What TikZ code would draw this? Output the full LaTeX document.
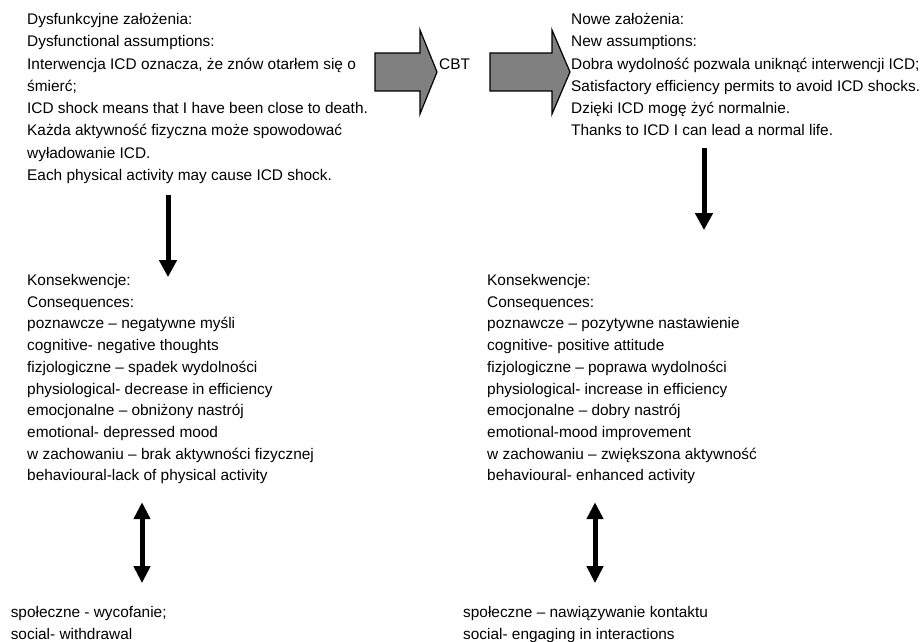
\documentclass[tikz,border=0pt]{standalone}
\usepackage{fontspec}
\setmainfont{Liberation Sans}
\usetikzlibrary{positioning,arrows.meta}
\tikzset{
  txtblock/.style={align=left, inner sep=0pt, anchor=base west,
    font=\fontsize{15.4bp}{21.7bp}\selectfont},
  topblock/.style={txtblock, font=\fontsize{15.4bp}{22.3bp}\selectfont},
  downarrow/.style={line width=5bp, -{Triangle[width=17bp,length=17bp]}},
  bothways/.style={line width=5bp,
    {Triangle[width=16bp,length=17bp]}-{Triangle[width=16bp,length=17bp]}},
  fatarrow/.style={draw=black, line width=1.2bp, fill=black!50, line join=miter},
}

\begin{document}
\begin{tikzpicture}[x=1bp, y=-1bp]
  \useasboundingbox (0,0) rectangle (923,642);
  % assumptions (base = last line)
  \node[topblock] (dysf) at (27,180.6) {Dysfunkcyjne założenia:\\Dysfunctional assumptions:\\Interwencja ICD oznacza, że znów otarłem się o\\śmierć;\\ICD shock means that I have been close to death.\\Każda aktywność fizyczna może spowodować\\wyładowanie ICD.\\Each physical activity may cause ICD shock.};
  \node[topblock] (nowe) at (571,136) {Nowe założenia:\\New assumptions:\\Dobra wydolność pozwala uniknąć interwencji ICD;\\Satisfactory efficiency permits to avoid ICD shocks.\\Dzięki ICD mogę żyć normalnie.\\Thanks to ICD I can lead a normal life.};
  % CBT arrows
  \foreach \xa/\xb/\xt in {375/420/437, 490/552/570}
    \draw[fatarrow] (\xa,53) -- (\xb,53) -- (\xb,30) -- (\xt,72) -- (\xb,114) -- (\xb,91) -- (\xa,91) -- cycle;
  \node[txtblock] (cbt) at (439,69.5) {CBT};
  % consequences
  \node[txtblock] (konsL) at (27,480.8) {Konsekwencje:\\Consequences:\\poznawcze – negatywne myśli\\cognitive- negative thoughts\\fizjologiczne – spadek wydolności\\physiological- decrease in efficiency\\emocjonalne – obniżony nastrój\\emotional- depressed mood\\w zachowaniu – brak aktywności fizycznej\\behavioural-lack of physical activity};
  \node[txtblock] (konsR) at (487,480.8) {Konsekwencje:\\Consequences:\\poznawcze – pozytywne nastawienie\\cognitive- positive attitude\\fizjologiczne – poprawa wydolności\\physiological- increase in efficiency\\emocjonalne – dobry nastrój\\emotional-mood improvement\\w zachowaniu – zwiększona aktywność\\behavioural- enhanced activity};
  % social
  \node[txtblock] (spolL) at (10.6,639.2) {społeczne - wycofanie;\\social- withdrawal};
  \node[txtblock] (spolR) at (463,639.2) {społeczne – nawiązywanie kontaktu\\social- engaging in interactions};
  \coordinate (lcol) at (168,0);
  \coordinate (rcol) at (704,0);
  \coordinate (ldbl) at (142,0);
  \coordinate (rdbl) at (595,0);
  \draw[downarrow, shorten <=11bp, shorten >=-3bp] (dysf.south -| lcol) -- (konsL.north -| lcol);
  \draw[downarrow, shorten <=12bp, shorten >=44bp] (nowe.south -| rcol) -- (konsR.north -| rcol);
  \draw[bothways, shorten <=18bp, shorten >=23bp] (konsL.south -| ldbl) -- (spolL.north -| ldbl);
  \draw[bothways, shorten <=18bp, shorten >=23bp] (konsR.south -| rdbl) -- (spolR.north -| rdbl);
\end{tikzpicture}
\end{document}
